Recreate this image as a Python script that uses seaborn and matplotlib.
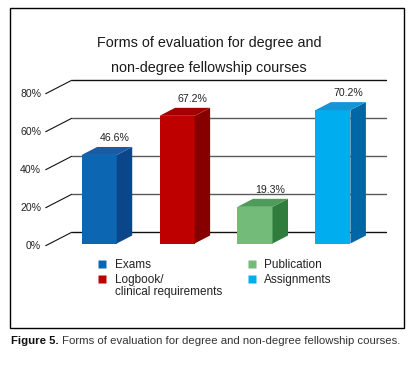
import seaborn as sns
import matplotlib.pyplot as plt
from matplotlib.patches import Polygon, Rectangle
from matplotlib.lines import Line2D

# data
categories = ["Exams", "Logbook/\nclinical requirements", "Publication", "Assignments"]
values = [46.6, 67.2, 19.3, 70.2]
ticks = [0, 20, 40, 60, 80]
front_colors = ["#0D66B2", "#BE0000", "#73BB79", "#00AEEF"]
top_colors = ["#1A5BA6", "#A40000", "#4F9B59", "#1495D5"]
side_colors = ["#0B468A", "#870000", "#2F7C3D", "#0067A6"]

sns.set_style("white")
plt.rcParams['font.family'] = ['Liberation Sans', 'DejaVu Sans']

W, H = 412, 367
fig = plt.figure(figsize=(W / 100, H / 100), dpi=100)

# axes placed so that 1 unit on x = 77.9 px, 1% on y = 1.9 px
px_x, px_y = 77.9, 1.9
ax = fig.add_axes([40 / W, 117 / H, 352 / W, 175 / H])

df = {"cat": categories, "val": values}
sns.barplot(x="cat", y="val", hue="cat", data=df, palette=front_colors,
            width=0.45, saturation=1, legend=False, ax=ax, zorder=3,
            edgecolor="none")
ax.set_xlim(-0.760, 3.759)
ax.set_ylim(-3.421, 88.684)
ax.axis("off")

# depth of the bars
ddx, ddy = 15.5 / px_x, 8 / px_y
for i, p in enumerate(ax.patches):
    x0, w, h = p.get_x(), p.get_width(), p.get_height()
    x1 = x0 + w
    side = Polygon([(x1, 0), (x1 + ddx, ddy), (x1 + ddx, h + ddy), (x1, h)],
                   closed=True, fc=side_colors[i], ec="none", zorder=3)
    top = Polygon([(x0, h), (x0 + ddx, h + ddy), (x1 + ddx, h + ddy), (x1, h)],
                  closed=True, fc=top_colors[i], ec="none", zorder=3)
    ax.add_patch(side)
    ax.add_patch(top)
    ax.text(x0 + w / 2 + ddx, h + ddy + 9 / px_y, f"{values[i]:.1f}%",
            ha="center", va="center", fontsize=7.6, color="#222222")

# back wall gridlines + diagonal ticks
back_dy, front_dy = 11.2 / px_y, -2.2 / px_y
xb0, xb1 = (71.7 - 99.2) / px_x, (386 - 99.2) / px_x
xf0 = (45.7 - 99.2) / px_x
for t in ticks:
    col = "#111111" if t in (0, 80) else "#5a5a5a"
    ax.plot([xb0, xb1], [t + back_dy, t + back_dy], color=col, lw=1.0, zorder=1)
    ax.plot([xf0, xb0], [t + front_dy, t + back_dy], color="#111111", lw=0.8, zorder=1)
    ax.text(xf0 - 4.5 / px_x, t + front_dy, f"{t}%", ha="right", va="center",
            fontsize=7.6, color="#222222")

# title
fig.text(209 / W, 1 - 43 / H, "Forms of evaluation for degree and",
         ha="center", va="center", fontsize=10.4, color="#1a1a1a")
fig.text(209 / W, 1 - 68 / H, "non-degree fellowship courses",
         ha="center", va="center", fontsize=10.4, color="#1a1a1a")

# legend (first line of each label; second line added below)
first_lines = [c.split("\n")[0] for c in categories]
handles = [Line2D([], [], marker="s", ls="none", markersize=5.5,
                  markerfacecolor=c, markeredgecolor="none") for c in front_colors]
leg = fig.legend(handles, first_lines, ncol=2, loc="upper left",
                 bbox_to_anchor=(97 / W, 1 - 259 / H), frameon=False,
                 fontsize=8.5, handlelength=0.9, handletextpad=0.6,
                 columnspacing=7.05, labelspacing=0.25, borderpad=0,
                 borderaxespad=0)
for txt in leg.get_texts():
    txt.set_color("#222222")

fig.canvas.draw()
for i, c in enumerate(categories):
    if "\n" in c:
        bb = leg.get_texts()[i].get_window_extent(fig.canvas.get_renderer())
        fig.text(bb.x0 / fig.bbox.width, (bb.y0 - 0.5) / fig.bbox.height,
                 c.split("\n", 1)[1], ha="left", va="top",
                 fontsize=8.5, color="#222222")

# frame around chart
fig.patches.append(Rectangle((9.5 / W, 1 - 328 / H), 394.5 / W, 320 / H,
                             transform=fig.transFigure, fill=False,
                             lw=1.0, ec="black"))

# caption
t1 = fig.text(11 / W, 1 - 341 / H, "Figure 5.", fontweight="bold",
              ha="left", va="center", fontsize=8.2, color="#111111")
fig.canvas.draw()
bb = t1.get_window_extent(fig.canvas.get_renderer())
fig.text(bb.x1 / fig.bbox.width, 1 - 341 / H,
         " Forms of evaluation for degree and non-degree fellowship courses.",
         ha="left", va="center", fontsize=8.2, color="#333333")

fig.savefig("out.png", dpi=100)
